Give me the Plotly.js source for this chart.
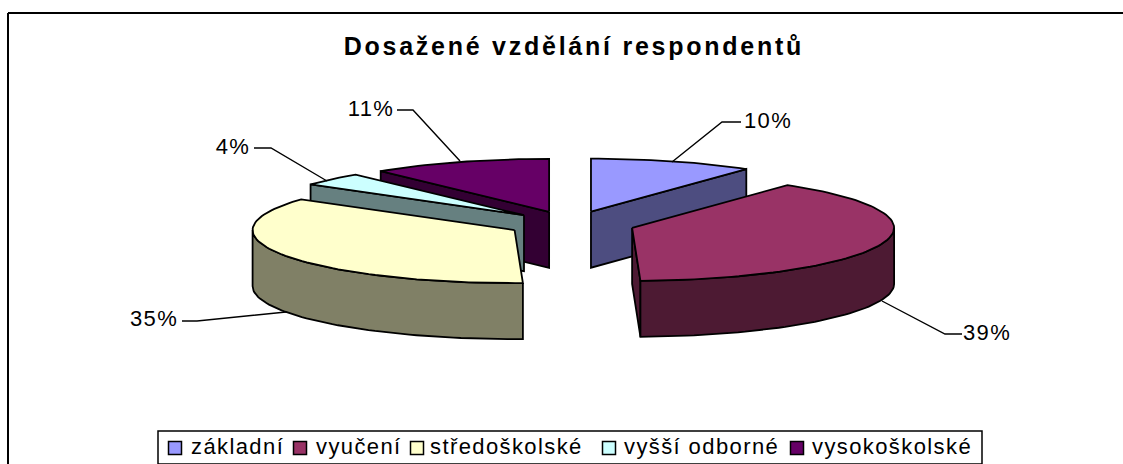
<!DOCTYPE html>
<html>
<head>
<meta charset="utf-8">
<script src="https://cdn.plot.ly/plotly-3.0.1.min.js"></script>
<style>
html,body{margin:0;padding:0;background:#fff;overflow:hidden}
#c{width:1123px;height:464px}
.textpoint text{letter-spacing:1.4px}
.gtitle{letter-spacing:2.75px}
</style>
</head>
<body>
<div id="c"></div>
<script>
const categories = ['základní', 'vyučení', 'středoškolské', 'vyšší odborné', 'vysokoškolské'];
const shares = [10, 39, 35, 4, 11];
const labelTexts = ['10%', '39%', '35%', '4%', '11%'];
const topColors = ['#9999ff', '#993366', '#ffffcc', '#ccffff', '#660066'];
const sideColors = ['#4d4d80', '#4d1a33', '#808066', '#668080', '#330033'];

// Projection of the tilted pie, in axis units
const CX = 571, CY = 224, RX = 262, RY = 53, DEPTH = 56, EXPLODE = 64;
const total = shares.reduce((a, b) => a + b, 0);
const TAU = Math.PI * 2;

let acc = 0;
const slices = shares.map((v, i) => {
  const a0 = acc / total * TAU; acc += v;
  const a1 = acc / total * TAU;
  const m = (a0 + a1) / 2;
  return {i, a0, a1, m,
    ax: CX + EXPLODE * Math.sin(m),
    ay: CY - EXPLODE * Math.cos(m) * RY / RX};
});
const rim = (s, a, dz) => [s.ax + RX * Math.sin(a), s.ay - RY * Math.cos(a) + (dz || 0)];
const arc = (s, a0, a1, dz) => {
  const n = Math.max(2, Math.ceil(Math.abs(a1 - a0) / 0.03));
  const out = [];
  for (let k = 0; k <= n; k++) out.push(rim(s, a0 + (a1 - a0) * k / n, dz));
  return out;
};
const poly = (pts, fill, name) => ({
  type: 'scatter', mode: 'lines', x: pts.map(p => p[0]), y: pts.map(p => p[1]),
  fill: 'toself', fillcolor: fill, line: {color: '#000', width: 1.8},
  showlegend: false, hoverinfo: 'skip', name
});

const traces = [];
// back-to-front drawing order
[4, 3, 0, 2, 1].forEach(i => {
  const s = slices[i], c = sideColors[i], name = categories[i];
  const apex = [s.ax, s.ay], apexLow = [s.ax, s.ay + DEPTH];
  // radial walls that face the viewer
  const wall = a => traces.push(poly([apex, rim(s, a), rim(s, a, DEPTH), apexLow, apex], c, name));
  if (Math.sin(s.a0) < -0.001) wall(s.a0);
  if (Math.sin(s.a1) > 0.001) wall(s.a1);
  // outer wall over the front half of the ellipse
  const lo = Math.max(s.a0, Math.PI / 2), hi = Math.min(s.a1, 3 * Math.PI / 2);
  if (hi > lo) traces.push(poly([...arc(s, lo, hi), ...arc(s, hi, lo, DEPTH), rim(s, lo)], c, name));
  // top face
  traces.push(poly([apex, ...arc(s, s.a0, s.a1), apex], topColors[i], name));
});

// Leader lines and percentage labels
const leaderEnds = [[[672, 162], [722, 122], [741, 122]], [[882, 301], [945, 334], [962, 334]],
                    [[286, 312], [197, 321], [182, 321]], [[327, 181], [271, 148], [254, 148]],
                    [[460, 161], [413, 110], [397, 110]]];
leaderEnds.forEach(pts => traces.push({
  type: 'scatter', mode: 'lines', x: pts.map(p => p[0]), y: pts.map(p => p[1]),
  line: {color: '#000', width: 1.4}, showlegend: false, hoverinfo: 'skip'
}));
const labelX = [768, 987, 154, 233, 371], labelY = [122, 334, 320, 148, 110];
traces.push({type: 'scatter', mode: 'text', x: labelX, y: labelY, text: labelTexts,
  textposition: 'middle center', textfont: {family: 'Liberation Sans, Arial, sans-serif', size: 22, color: '#000'},
  showlegend: false, hoverinfo: 'skip'});

// Legend row
const legendSwatchX = [175, 300, 417, 609, 797], legendTextX = [191, 316, 430, 624, 812], legendY = 448;
traces.push({type: 'scatter', mode: 'markers', x: legendSwatchX, y: legendSwatchX.map(() => legendY),
  marker: {symbol: 'square', size: 13, color: topColors, line: {color: '#000', width: 1.5}},
  showlegend: false, hoverinfo: 'skip'});
traces.push({type: 'scatter', mode: 'text', x: legendTextX, y: legendTextX.map(() => legendY), text: categories,
  textposition: 'middle right', textfont: {family: 'Liberation Sans, Arial, sans-serif', size: 22, color: '#000'},
  showlegend: false, hoverinfo: 'skip'});

const layout = {
  width: 1123, height: 464, margin: {l: 0, r: 0, t: 0, b: 0},
  paper_bgcolor: '#fff', plot_bgcolor: '#fff', showlegend: false,
  xaxis: {range: [0, 1123], visible: false, fixedrange: true},
  yaxis: {range: [464, 0], visible: false, fixedrange: true},
  title: {text: '<b>Dosažené vzdělání respondentů</b>', x: 0.511, xanchor: 'center', y: 0.9, yanchor: 'middle',
    font: {family: 'Liberation Sans, Arial, sans-serif', size: 25, color: '#000'}},
  shapes: [
    {type: 'line', xref: 'x', yref: 'y', x0: 8, x1: 8, y0: 13, y1: 464, line: {color: '#000', width: 2}},
    {type: 'line', xref: 'x', yref: 'y', x0: 8, x1: 1123, y0: 13, y1: 13, line: {color: '#000', width: 2}},
    {type: 'rect', xref: 'x', yref: 'y', x0: 158, x1: 982, y0: 431, y1: 464, line: {color: '#000', width: 1.5}, fillcolor: '#fff', layer: 'below'}
  ]
};
Plotly.newPlot('c', traces, layout, {staticPlot: true, displayModeBar: false});
</script>
</body>
</html>
